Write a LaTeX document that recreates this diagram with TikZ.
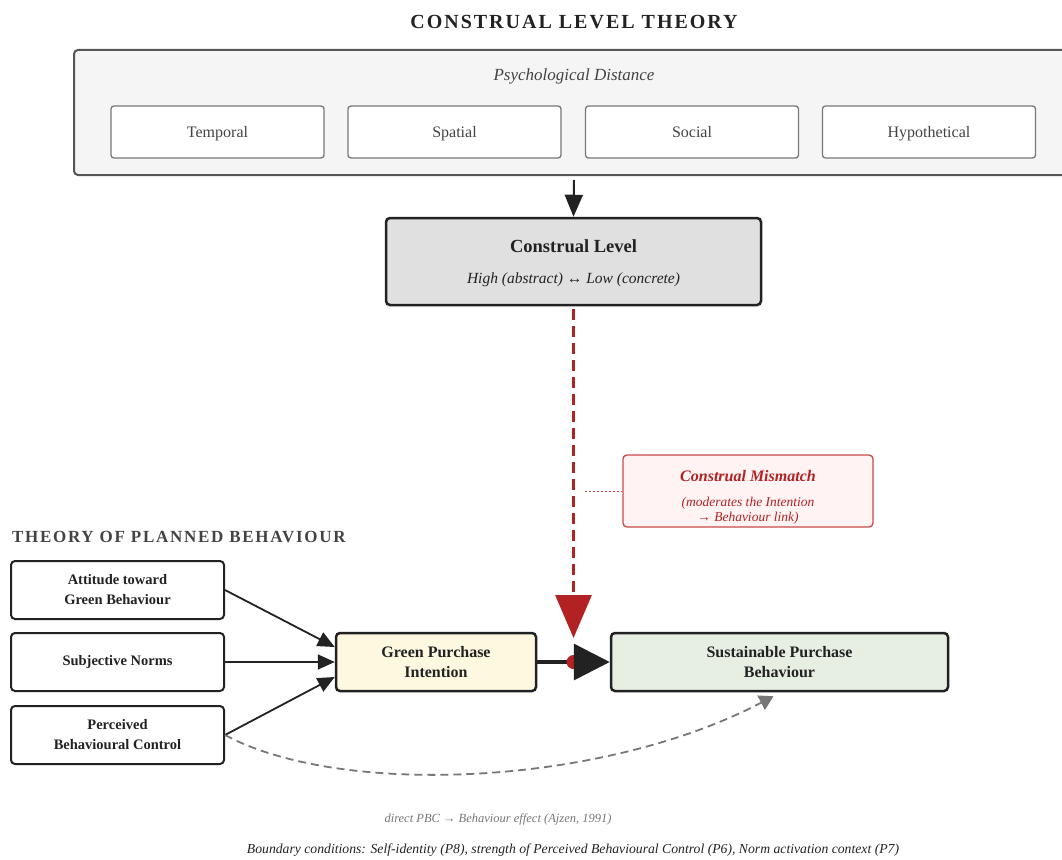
\documentclass[tikz,border=0pt]{standalone}
\usepackage{fontspec}
\setmainfont{Liberation Serif}
\usetikzlibrary{arrows.meta,calc}

\definecolor{ink}{HTML}{222222}
\definecolor{frame}{HTML}{555555}
\definecolor{softgray}{HTML}{777777}
\definecolor{paneBg}{HTML}{F5F5F5}
\definecolor{levelBg}{HTML}{E0E0E0}
\definecolor{mismatchRed}{HTML}{B22222}
\definecolor{mismatchEdge}{HTML}{C94A4A}
\definecolor{mismatchBg}{HTML}{FFF3F3}
\definecolor{intentBg}{HTML}{FFF8E1}
\definecolor{behavBg}{HTML}{E7EFE3}

\begin{document}
\begin{tikzpicture}[x=1pt, y=-1pt,
  every node/.style={text=ink, align=center, inner sep=2pt},
  distbox/.style={draw=softgray, line width=1.3pt, rounded corners=3pt, fill=white,
    minimum width=213pt, minimum height=52pt, text height=10.5pt, text depth=0pt,
    font=\fontsize{16}{19}\selectfont, text=ink!85},
  tpbbox/.style={draw=ink, line width=2pt, rounded corners=4pt, fill=white,
    minimum width=213pt, minimum height=58pt, font=\bfseries\fontsize{14.5}{20}\selectfont},
  corebox/.style={draw=ink, line width=2.5pt, rounded corners=4pt,
    minimum height=58pt, font=\bfseries\fontsize{16}{20}\selectfont},
  feed/.style={draw=ink, line width=1.8pt, -{Triangle[length=17pt,width=15pt]}}
]
  \useasboundingbox (0,0) rectangle (1062,859);

  % Titles
  \node (clttitle) at (574,22) {\addfontfeature{LetterSpace=10}\bfseries\fontsize{20}{24}\selectfont CONSTRUAL LEVEL THEORY};
  \node[anchor=west, text=ink!85] (tpbtitle) at (10,537) {\addfontfeature{LetterSpace=10}\bfseries\fontsize{17}{20}\selectfont THEORY OF PLANNED BEHAVIOUR};

  % Psychological distance panel
  \node[draw=frame, line width=2pt, rounded corners=4pt, fill=paneBg,
    minimum width=1000pt, minimum height=125pt] (pd) at (574,112.5) {};
  \node[font=\itshape\fontsize{17}{20}\selectfont, text=ink!85] (pdlabel) at (574,76) {Psychological Distance};
  \node[distbox] (temporal) at (217.5,132) {Temporal};
  \node[distbox] (spatial)  at (454.5,132) {Spatial};
  \node[distbox] (social)   at (692,132)   {Social};
  \node[distbox] (hypo)     at (929,132)   {Hypothetical};

  % Construal level
  \node[draw=ink, line width=2.5pt, rounded corners=4pt, fill=levelBg,
    minimum width=375pt, minimum height=87pt, text depth=0pt,
    font=\itshape\fontsize{15.5}{31}\selectfont] (cl) at (573.5,261.5)
    {{\upshape\bfseries\fontsize{18.5}{31}\selectfont Construal Level}\\
     High (abstract) ↔ Low (concrete)};
  \draw[ink, line width=2pt, -{Triangle[length=22pt,width=18pt]}] ([yshift=-4pt]pd.south) -- (cl.north);

  % Construal mismatch
  \node[draw=mismatchEdge, line width=1.3pt, rounded corners=4pt, fill=mismatchBg,
    minimum width=250pt, minimum height=72pt] (mismatch) at (748,491) {};
  \node[text=mismatchRed, font=\itshape\fontsize{13.5}{15}\selectfont] (mmtext) at (748,497)
    {{\bfseries\fontsize{16}{19}\selectfont Construal Mismatch}\\[10pt]
     (moderates the Intention\\→ Behaviour link)};

  % TPB antecedents
  \node[tpbbox] (att) at (117.5,590) {Attitude toward\\Green Behaviour};
  \node[tpbbox] (sn)  at (117.5,662) {Subjective Norms};
  \node[tpbbox] (pbc) at (117.5,735) {Perceived\\Behavioural Control};

  % Intention and behaviour
  \node[corebox, fill=intentBg, minimum width=200pt] (gpi) at (436,662) {Green Purchase\\Intention};
  \node[corebox, fill=behavBg, minimum width=337pt] (spb) at (779.5,662) {Sustainable Purchase\\Behaviour};
  \coordinate (mod) at ($(gpi.east)!0.5!(spb.west)$);
  \coordinate (mmfoot) at ($(mismatch.west)+(-37,0)$);

  % Antecedent paths
  \draw[feed] (att.east) -- ([yshift=15pt]gpi.west);
  \draw[feed] (sn.east) -- (gpi.west);
  \draw[feed] (pbc.east) -- ([yshift=-15pt]gpi.west);

  % Intention -> behaviour, moderated
  \draw[ink, line width=3.5pt] (gpi.east) -- (mod);
  \fill[mismatchRed] (mod) circle (7pt);
  \draw[ink, line width=3.5pt, -{Triangle[length=36pt,width=36pt]}] (mod) -- (spb.west);
  \draw[mismatchRed, line width=3pt, dash pattern=on 11pt off 6pt,
    -{Triangle[length=43pt,width=36pt]}] ([yshift=-3pt]cl.south) -- ([yshift=24pt]mod);
  \draw[mismatchEdge, line width=1pt, dash pattern=on 2pt off 2pt] (mmfoot) -- (mismatch.west);

  % Direct PBC path
  \draw[softgray, line width=1.8pt, dash pattern=on 8pt off 5pt, -{Triangle[length=14pt,width=16pt]}]
    (pbc.east) .. controls (340,797) and (600,787) .. ([xshift=-6pt,yshift=-4pt]spb.south);

  % Notes
  \node[font=\itshape\fontsize{12.5}{15}\selectfont, text=softgray] (pbcnote) at (498,819) {direct PBC → Behaviour effect (Ajzen, 1991)};
  \node[font=\itshape\fontsize{13.7}{17}\selectfont] (boundary) at (573,850) {Boundary conditions: Self-identity (P8), strength of Perceived Behavioural Control (P6), Norm activation context (P7)};
\end{tikzpicture}
\end{document}
